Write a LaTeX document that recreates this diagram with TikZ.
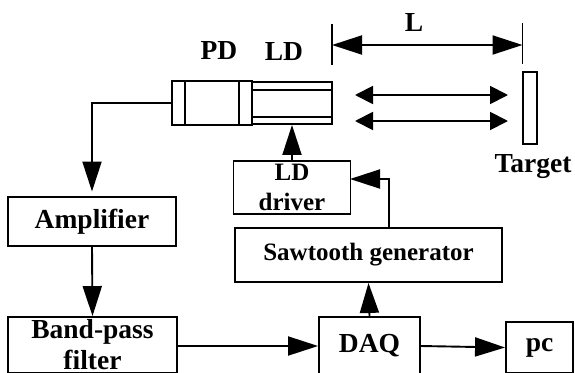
\documentclass[tikz,border=0pt]{standalone}
\usepackage{fontspec}
\setmainfont{Liberation Serif}
\usetikzlibrary{arrows.meta}
\tikzset{
    blockbox/.style={draw, line width=1.9pt, inner sep=0pt, align=center, font=\bfseries\fontsize{27.5}{31}\selectfont},
    smallbox/.style={blockbox, font=\bfseries\fontsize{25}{29.5}\selectfont},
    partbox/.style={draw, line width=1.9pt, inner sep=0pt},
    caption/.style={inner sep=0pt, font=\bfseries\fontsize{27.5}{33}\selectfont},
    bigarrow/.style={line width=1.9pt, -{Triangle[length=30pt,width=19pt]}},
    beamarrow/.style={line width=1.9pt, {Triangle[length=18pt,width=18pt]}-{Triangle[length=18pt,width=18pt]}}
}
\begin{document}
\begin{tikzpicture}[x=1pt, y=-1pt]
    \clip (0,0) rectangle (575,372);
    \fill[white] (0,0) rectangle (575,372);
    % Laser head
    \node[partbox, minimum width=80pt, minimum height=44pt] (pd) at (212,103) {};
    \node[partbox, minimum width=80pt, minimum height=42pt] (ld) at (292,103) {};
    \draw[line width=1.9pt] (185,81) -- (185,125);
    \draw[line width=1.9pt] (239,81) -- (239,125);
    \draw[line width=1.9pt] (252,90) -- (332,90);
    \draw[line width=1.9pt] (252,117) -- (332,117);
    \node[partbox, minimum width=14pt, minimum height=72pt] (target) at (530,108) {};
    % Blocks
    \node[blockbox, minimum width=168pt, minimum height=49pt] (amplifier) at (92,221.5) {Amplifier};
    \node[blockbox, minimum width=169pt, minimum height=56pt] (bandpass) at (92.5,345) {Band-pass\\filter};
    \node[blockbox, minimum width=101pt, minimum height=58pt] (daq) at (369.5,346) {DAQ};
    \node[blockbox, minimum width=67pt, minimum height=51pt] (pc) at (539.5,347.5) {pc};
    \node[smallbox, minimum width=267pt, minimum height=54pt] (sawtooth) at (368.5,255) {Sawtooth generator};
    \node[smallbox, minimum width=117pt, minimum height=53pt] (driver) at (292,187.5) {LD\\driver};
    % Labels
    \node[caption] (pdlabel) at (219,51) {PD};
    \node[caption] (ldlabel) at (284,52) {LD};
    \node[caption] (llabel) at (414,22) {L};
    \node[caption] (targetlabel) at (533,167) {Target};
    % Free ends
    \coordinate (sawout) at (388.6,228);
    \coordinate (driverin) at (350,179);
    \coordinate (leftbar) at (332,45);
    \coordinate (rightbar) at (522.5,45);
    \coordinate (beamAl) at (355,95);
    \coordinate (beamAr) at (508,95);
    \coordinate (beamBl) at (355,121);
    \coordinate (beamBr) at (508,121);
    % Connectors
    \draw[bigarrow, shorten >=4.5pt] (pd.west) -| (amplifier.north);
    \draw[bigarrow] (amplifier.south) -- (bandpass.north);
    \draw[bigarrow] (bandpass.east |- daq.west) -- (daq.west);
    \draw[bigarrow] (daq.east) -- (pc.west);
    \draw[bigarrow] (daq.north) -- (sawtooth.south);
    \draw[bigarrow] (sawout) |- (driverin);
    \draw[bigarrow] (driver.north) -- (ld.south);
    \draw[beamarrow] (beamAl) -- (beamAr);
    \draw[beamarrow] (beamBl) -- (beamBr);
    % Distance L
    \draw[line width=1.5pt] (332,24) -- (332,65);
    \draw[line width=1.5pt] (522.5,23) -- (522.5,64);
    \draw[line width=1.9pt, {Triangle[length=30pt,width=19pt]}-{Triangle[length=30pt,width=19pt]}] (leftbar) -- (rightbar);
\end{tikzpicture}
\end{document}
